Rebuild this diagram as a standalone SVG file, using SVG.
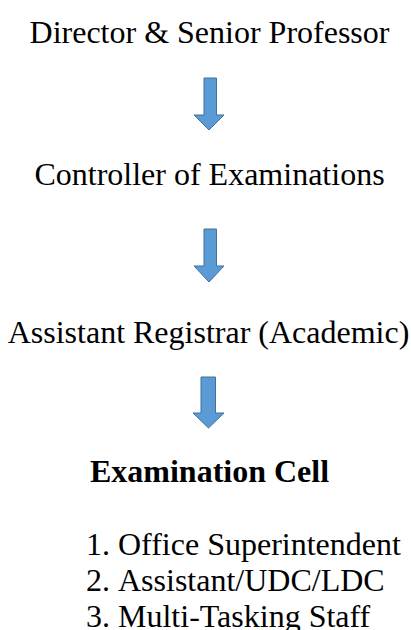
<svg xmlns="http://www.w3.org/2000/svg" width="411" height="630" viewBox="0 0 411 630">
<style>
text{font-family:"Liberation Serif","Times New Roman",serif;font-size:32px;fill:#000}
.c{text-anchor:middle}
.b{font-weight:bold}
.arr{fill:#5b9bd5;stroke:#41719c;stroke-width:1}
</style>
<rect width="411" height="630" fill="#fff"/>
<g id="director"><text class="c" x="209.5" y="43">Director &amp; Senior Professor</text></g>
<g id="controller"><text class="c" x="209.5" y="185">Controller of Examinations</text></g>
<g id="assistant-registrar"><text class="c" x="208.5" y="343">Assistant Registrar (Academic)</text></g>
<g id="exam-cell"><text class="c b" x="209.5" y="482">Examination Cell</text></g>
<g id="staff">
<text x="86" y="555">1.</text><text x="118" y="555">Office Superintendent</text>
<text x="86" y="591">2.</text><text x="118" y="591">Assistant/UDC/LDC</text>
<text x="86" y="627">3.</text><text x="118" y="627">Multi-Tasking Staff</text>
</g>
<g id="connectors">
<path class="arr" d="M204,78 H216.5 V115 H224 L209,130 L194,115 H204 Z"/>
<path class="arr" d="M204,229 H216.5 V266 H224 L209,282 L194,266 H204 Z"/>
<path class="arr" d="M201,377 H215.5 V413 H224 L208.5,428 L193,413 H201 Z"/>
</g>
</svg>
